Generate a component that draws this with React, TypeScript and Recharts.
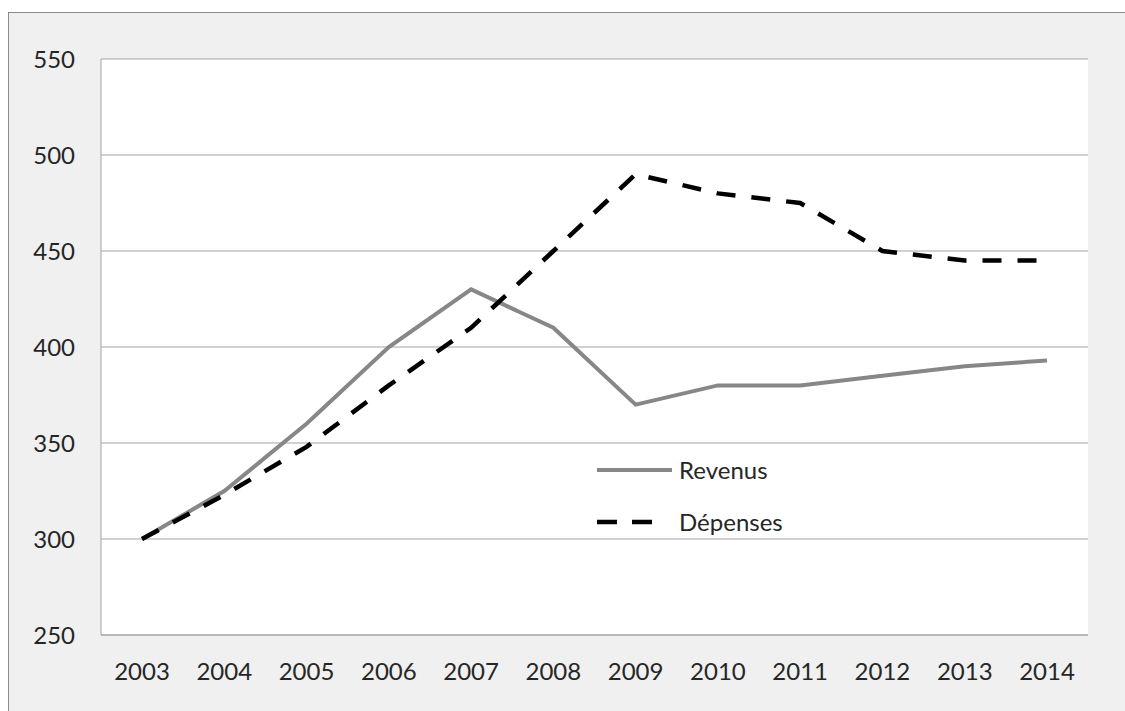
import { LineChart, Line, XAxis, YAxis, CartesianGrid, Legend } from 'recharts';

const years = ['2003', '2004', '2005', '2006', '2007', '2008', '2009', '2010', '2011', '2012', '2013', '2014'];
const revenus = [300, 325, 360, 400, 430, 410, 370, 380, 380, 385, 390, 393];
const depenses = [300, 323, 348, 380, 410, 450, 490, 480, 475, 450, 445, 445];
const yTicks = [250, 300, 350, 400, 450, 500, 550];

const data = years.map((year, i) => ({ year, revenus: revenus[i], depenses: depenses[i] }));

const FONT = 'Lato, "Open Sans", sans-serif';
const TEXT = '#262626';
const GRID = '#a3a3a3';

function LegendBox() {
  const row = { display: 'flex', alignItems: 'center', height: 52 };
  const label = { fontFamily: FONT, fontSize: 24, color: TEXT, marginLeft: 7, lineHeight: '24px' };
  return (
    <div>
      <div style={row}>
        <svg width={75} height={8}>
          <line x1={0} y1={4} x2={75} y2={4} stroke="#878787" strokeWidth={4} />
        </svg>
        <span style={label}>Revenus</span>
      </div>
      <div style={row}>
        <svg width={75} height={8}>
          <line x1={0} y1={4} x2={56} y2={4} stroke="#000" strokeWidth={4.5} strokeDasharray="20 15" />
        </svg>
        <span style={label}>Dépenses</span>
      </div>
    </div>
  );
}

export default function App() {
  return (
    <div style={{ position: 'fixed', left: 8, top: 12, width: 1117, height: 699, overflow: 'hidden' }}>
      <div style={{ width: 1200, height: 800, background: '#f0f0f0', border: '1px solid #8a8a8a', boxSizing: 'border-box' }}>
        <LineChart width={1100} height={690} data={data} margin={{ top: 46, right: 21, left: 0, bottom: 0 }}>
          <CartesianGrid vertical={false} stroke={GRID} fill="#ffffff" />
          <XAxis
            dataKey="year"
            height={68}
            padding={{ left: 41, right: 41 }}
            tickLine={false}
            tickSize={0}
            tickMargin={28}
            axisLine={{ stroke: GRID }}
            tick={{ fontFamily: FONT, fontSize: 24, fill: TEXT }}
            interval={0}
          />
          <YAxis
            width={92}
            domain={[250, 550]}
            ticks={yTicks}
            tickLine={false}
            tickSize={0}
            tickMargin={26}
            axisLine={{ stroke: GRID }}
            tick={{ fontFamily: FONT, fontSize: 24, fill: TEXT }}
          />
          <Legend
            layout="horizontal"
            verticalAlign="middle"
            align="center"
            content={() => <LegendBox />}
            wrapperStyle={{ left: 588, top: 431, width: 240, height: 104 }}
          />
          <Line
            type="linear"
            dataKey="revenus"
            name="Revenus"
            stroke="#878787"
            strokeWidth={4}
            dot={false}
            isAnimationActive={false}
          />
          <Line
            type="linear"
            dataKey="depenses"
            name="Dépenses"
            stroke="#000000"
            strokeWidth={4.5}
            strokeDasharray="19 16"
            dot={false}
            isAnimationActive={false}
          />
        </LineChart>
      </div>
    </div>
  );
}
